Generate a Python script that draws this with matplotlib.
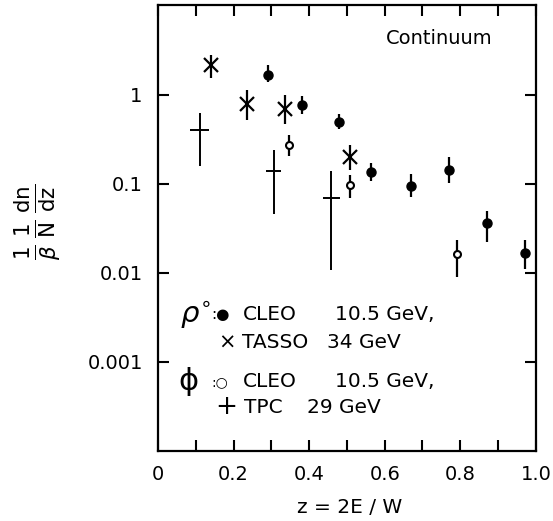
import matplotlib
matplotlib.use("Agg")
import matplotlib.pyplot as plt
import numpy as np

# rho0, CLEO 10.5 GeV (filled circles)
rho_cleo_z = [0.29, 0.38, 0.48, 0.565, 0.67, 0.77, 0.87, 0.97]
rho_cleo_y = [1.69, 0.77, 0.49, 0.136, 0.095, 0.144, 0.0365, 0.0167]
rho_cleo_lo = [1.39, 0.61, 0.41, 0.108, 0.071, 0.103, 0.022, 0.0112]
rho_cleo_hi = [2.14, 0.98, 0.61, 0.171, 0.128, 0.198, 0.050, 0.0237]

# rho0, TASSO 34 GeV (crosses)
tasso_z = [0.14, 0.235, 0.335, 0.507]
tasso_y = [2.14, 0.79, 0.695, 0.198]
tasso_lo = [1.56, 0.526, 0.47, 0.144]
tasso_hi = [2.77, 1.14, 1.0, 0.275]

# phi, CLEO 10.5 GeV (open circles)
phi_cleo_z = [0.346, 0.509, 0.792]
phi_cleo_y = [0.273, 0.097, 0.0163]
phi_cleo_lo = [0.203, 0.069, 0.0089]
phi_cleo_hi = [0.354, 0.125, 0.0237]

# phi, TPC 29 GeV (bin-width crosses)
tpc_z = [0.11, 0.306, 0.459]
tpc_dz = [0.026, 0.02, 0.022]
tpc_y = [0.406, 0.14, 0.069]
tpc_lo = [0.159, 0.046, 0.0107]
tpc_hi = [0.626, 0.24, 0.14]

x_ticks = [0, 0.1, 0.2, 0.3, 0.4, 0.5, 0.6, 0.7, 0.8, 0.9, 1.0]
x_ticklabels = ["0", "", "0.2", "", "0.4", "", "0.6", "", "0.8", "", "1.0"]
y_ticks = [1, 0.1, 0.01, 0.001]
y_ticklabels = ["1", "0.1", "0.01", "0.001"]


def yerr(y, lo, hi):
    y, lo, hi = map(np.asarray, (y, lo, hi))
    return [y - lo, hi - y]


plt.rcParams["font.family"] = ["DejaVu Sans"]
fig = plt.figure(figsize=(5.53, 5.21), dpi=100)
ax = fig.add_axes([0.2857, 0.1344, 0.969 - 0.2857, 0.9904 - 0.1344])

ax.errorbar(rho_cleo_z, rho_cleo_y, yerr=yerr(rho_cleo_y, rho_cleo_lo, rho_cleo_hi),
            fmt="o", ms=6.5, color="black", elinewidth=1.6, capsize=0)
ax.errorbar(tasso_z, tasso_y, yerr=yerr(tasso_y, tasso_lo, tasso_hi),
            fmt="x", ms=10.5, mew=1.6, color="black", elinewidth=1.6, capsize=0)
ax.errorbar(phi_cleo_z, phi_cleo_y, yerr=yerr(phi_cleo_y, phi_cleo_lo, phi_cleo_hi),
            fmt="o", ms=5, mfc="white", mec="black", mew=1.5, color="black",
            elinewidth=1.6, capsize=0)
ax.errorbar(tpc_z, tpc_y, xerr=tpc_dz, yerr=yerr(tpc_y, tpc_lo, tpc_hi),
            fmt="none", color="black", elinewidth=1.4, capsize=0)

ax.set_yscale("log")
ax.set_xlim(0, 1.0)
ax.set_ylim(1e-4, 10.2)

ax.set_xticks(x_ticks)
ax.set_xticklabels(x_ticklabels)
ax.tick_params(axis="x", direction="in", length=8, width=1.5, top=True, bottom=True,
               labelsize=14, pad=10)

ax.set_yticks(y_ticks)
ax.set_yticklabels(y_ticklabels)
ax.yaxis.set_minor_locator(matplotlib.ticker.NullLocator())
ax.tick_params(axis="y", direction="in", length=8, width=1.5, left=True, right=True,
               labelsize=14, pad=11)

for s in ax.spines.values():
    s.set_linewidth(1.6)

ax.text(0.884, 0.925, "Continuum", transform=ax.transAxes, ha="right", va="center",
        fontsize=14)

# key: symbols and labels placed in axes fractions
fs = 14.5
rows = [0.305, 0.243, 0.155, 0.098]


def key(x, row, s, dy=0.0, **kw):
    kw.setdefault("fontsize", fs)
    ax.text(x, rows[row] + dy, s, transform=ax.transAxes, va="center", ha="left", **kw)


key(0.058, 0, r"$\rho^{\circ}$", fontsize=21)
key(0.142, 0, ":●", fontsize=11)
key(0.225, 0, "CLEO")
key(0.468, 0, "10.5 GeV,")
key(0.158, 1, "×", fontsize=15)
key(0.222, 1, "TASSO")
key(0.447, 1, "34 GeV")
key(0.055, 2, "ϕ", fontsize=22)
key(0.142, 2, ":○", fontsize=10)
key(0.225, 2, "CLEO")
key(0.468, 2, "10.5 GeV,")
key(0.152, 3, "+", fontsize=19)
key(0.228, 3, "TPC")
key(0.394, 3, "29 GeV")

fig.text(0.632, 0.025, "z = 2E / W", ha="center", va="center", fontsize=14.5)
fig.text(0.068, 0.574,
         r"$\frac{1}{\beta}\,\frac{1}{\mathrm{N}}\,\frac{\mathrm{dn}}{\mathrm{dz}}$",
         rotation=90, ha="center", va="center", fontsize=22)

fig.savefig("out.png", dpi=100)
